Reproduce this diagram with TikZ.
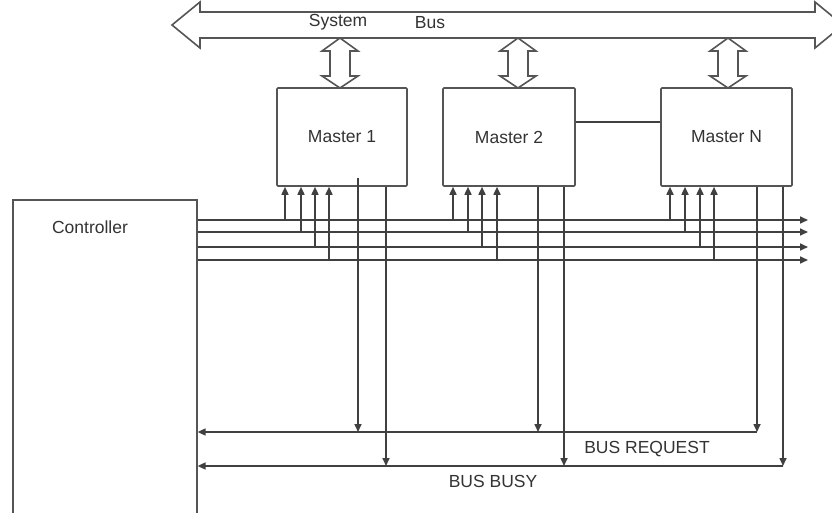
\documentclass[tikz,border=0pt]{standalone}
\usepackage{fontspec}
\setmainfont{Liberation Sans}
\usetikzlibrary{arrows.meta}
\definecolor{linegray}{HTML}{404040}
\definecolor{boxgray}{HTML}{555555}
\definecolor{textgray}{HTML}{333333}
\tikzset{
  wire/.style={draw=linegray, line width=1.6pt},
  sig/.style={wire, -{Triangle[length=8pt,width=7pt]}},
  mbox/.style={draw=boxgray, line width=1.6pt, rounded corners=1pt, inner sep=0pt, minimum height=98pt},
  lbl/.style={font=\fontsize{17.5}{20}\selectfont, text=textgray, inner sep=0pt},
  busshape/.style={draw=boxgray, line width=1.6pt, fill=white, line join=miter},
  busarrow/.pic={
    \draw[busshape] (0,0) -- (18,-12) -- (10,-12) -- (10,-37) -- (18,-37) -- (0,-50)
      -- (-18,-37) -- (-10,-37) -- (-10,-12) -- (-18,-12) -- cycle;
  }
}
\begin{document}
\begin{tikzpicture}[x=1pt,y=-1pt]
\useasboundingbox (0,0) rectangle (832,513);
\clip (0,0) rectangle (832,513);

% system bus
\draw[busshape] (172,25) -- (200,2) -- (200,12) -- (815,12) -- (815,2) -- (843,25)
  -- (815,48) -- (815,38) -- (200,38) -- (200,48) -- cycle;
\node[lbl] (sys) at (338,22) {System};
\node[lbl] (bus) at (430,23) {Bus};

% masters
\node[mbox, minimum width=130pt] (m1) at (342,137) {};
\node[mbox, minimum width=132pt] (m2) at (509,137) {};
\node[mbox, minimum width=131pt] (mN) at (726.5,137) {};
\node[lbl] (t1) at (m1) {Master 1};
\node[lbl] (t2) at (m2) {Master 2};
\node[lbl] (tN) at (mN) {Master N};

\pic at (340,88) {busarrow};
\pic at (518,88) {busarrow};
\pic at (728,88) {busarrow};

\draw[wire] (m2.east |- 0,122) -- (mN.west |- 0,122);

% controller
\node[draw=boxgray, line width=1.6pt, inner sep=0pt, minimum width=184pt, minimum height=340pt, anchor=north west] (ctrl) at (12,199) {};
\node[lbl] (ctxt) at (90,227) {Controller};

% horizontal grant lines
\foreach \y in {220,232,247,260}{
  \draw[sig] (ctrl.east |- 0,\y) -- (808,\y);
}

% up arrows into masters
\foreach \x/\y in {285/220,301/232,315/247,329/260}{
  \draw[sig] (\x,\y) -- (\x,0 |- m1.south);
}
\foreach \x/\y in {453/220,468/232,482/247,497/260}{
  \draw[sig] (\x,\y) -- (\x,0 |- m2.south);
}
\foreach \x/\y in {670/220,685/232,700/247,714/260}{
  \draw[sig] (\x,\y) -- (\x,0 |- mN.south);
}

% down lines
\coordinate (req) at (757,432);
\coordinate (busy) at (783,466);
\draw[sig] (358,178) -- (358,0 |- req);
\draw[sig] (386,0 |- m1.south) -- (386,0 |- busy);
\draw[sig] (538,0 |- m2.south) -- (538,0 |- req);
\draw[sig] (564,0 |- m2.south) -- (564,0 |- busy);
\draw[sig] (757,0 |- mN.south) -- (req);
\draw[sig] (783,0 |- mN.south) -- (busy);

\draw[sig] (req) -- (ctrl.east |- req);
\draw[sig] (busy) -- (ctrl.east |- busy);

\node[lbl] (rl) at (647,449) {BUS REQUEST};
\node[lbl] (bl) at (493,481) {BUS BUSY};
\end{tikzpicture}
\end{document}
